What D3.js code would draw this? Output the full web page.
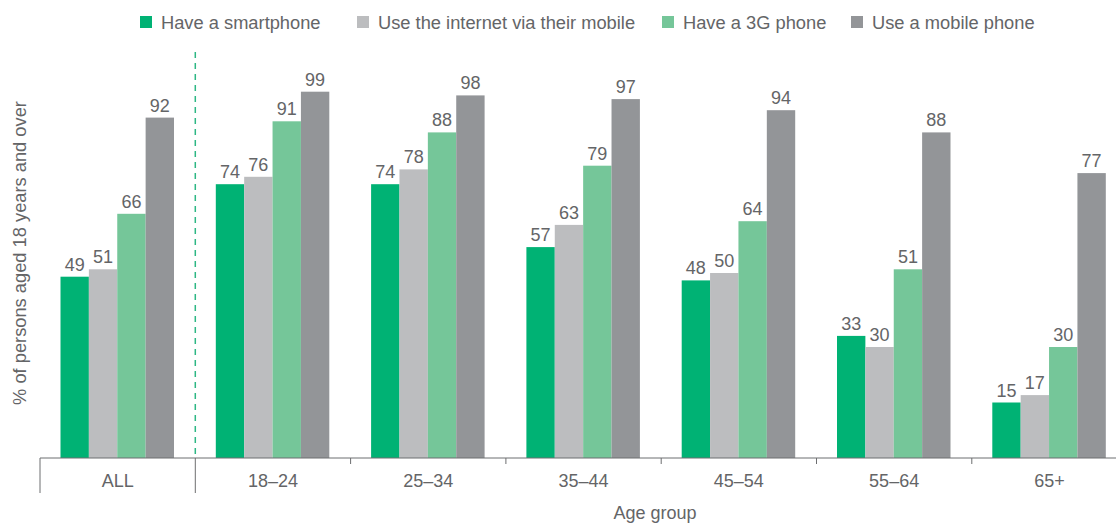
<!DOCTYPE html>
<html lang="en">
<head>
<meta charset="UTF-8">
<title>Mobile phone use by age group</title>
<script src="https://d3js.org/d3.v7.min.js"></script>
<style>
	body { margin: 0; background: #fff; }
	svg text { font-family: "Liberation Sans", Arial, sans-serif; fill: #646567; }
</style>
</head>
<body>
<svg id="chart" width="1116" height="525"></svg>
<script>
var groups = ["ALL", "18–24", "25–34", "35–44", "45–54", "55–64", "65+"];
var series = ["Have a smartphone", "Use the internet via their mobile", "Have a 3G phone", "Use a mobile phone"];
var colors = ["#00b274", "#bcbdbf", "#75c699", "#939598"];

var smartphone = [49, 74, 74, 57, 48, 33, 15];
var internet   = [51, 76, 78, 63, 50, 30, 17];
var phone3g    = [66, 91, 88, 79, 64, 51, 30];
var mobile     = [92, 99, 98, 97, 94, 88, 77];
var values = [smartphone, internet, phone3g, mobile];

var svg = d3.select("#chart");

var x0 = d3.scaleBand().domain(groups).range([40, 40 + 7 * 155.3]);
var x1 = d3.scaleBand().domain(series).range([20.5, 134]);
var y = d3.scaleLinear().domain([0, 100]).range([458, 88]);
var color = d3.scaleOrdinal().domain(series).range(colors);

// legend
var legendX = [140, 357, 662, 851];
var legend = svg.append("g").selectAll("g")
	.data(series)
	.enter().append("g")
	.attr("transform", function(d, i){ return "translate(" + legendX[i] + ",16)"; });
legend.append("rect")
	.attr("width", 12).attr("height", 12)
	.attr("fill", function(d){ return color(d); });
legend.append("text")
	.attr("x", 21).attr("y", 12.5)
	.style("font-size", "18.3px")
	.text(function(d){ return d; });

// bars
var rows = [];
groups.forEach(function(g, gi){
	series.forEach(function(s, si){
		rows.push({group: g, series: s, value: values[si][gi]});
	});
});

var bars = svg.append("g");
bars.selectAll("rect")
	.data(rows)
	.enter().append("rect")
	.attr("x", function(d){ return x0(d.group) + x1(d.series); })
	.attr("y", function(d){ return y(d.value); })
	.attr("width", x1.bandwidth())
	.attr("height", function(d){ return y(0) - y(d.value); })
	.attr("fill", function(d){ return color(d.series); });

bars.selectAll("text")
	.data(rows)
	.enter().append("text")
	.attr("x", function(d){ return x0(d.group) + x1(d.series) + x1.bandwidth() / 2; })
	.attr("y", function(d){ return y(d.value) - 6; })
	.attr("text-anchor", "middle")
	.style("font-size", "18px")
	.text(function(d){ return d.value; });

// dashed separator between ALL and the age groups
svg.append("line")
	.attr("x1", x0("18–24")).attr("x2", x0("18–24"))
	.attr("y1", 52).attr("y2", y(0))
	.attr("stroke", "#2db784")
	.attr("stroke-width", 1.5)
	.attr("stroke-dasharray", "6,5");

// x axis
var axis = svg.append("g").attr("transform", "translate(0," + y(0) + ")");
axis.append("line")
	.attr("x1", 40).attr("x2", 1116)
	.attr("stroke", "#6d6e70").attr("stroke-width", 1);
axis.selectAll(".tick")
	.data(groups)
	.enter().append("line")
	.attr("x1", function(d){ return x0(d); })
	.attr("x2", function(d){ return x0(d); })
	.attr("y1", 0)
	.attr("y2", function(d, i){ return i < 2 ? 35 : 6; })
	.attr("stroke", "#6d6e70");
axis.selectAll(".lbl")
	.data(groups)
	.enter().append("text")
	.attr("x", function(d){ return x0(d) + x0.bandwidth() / 2; })
	.attr("y", 29)
	.attr("text-anchor", "middle")
	.style("font-size", "18px")
	.text(function(d){ return d; });

svg.append("text")
	.attr("x", 655).attr("y", 519)
	.attr("text-anchor", "middle")
	.style("font-size", "18px")
	.text("Age group");

svg.append("text")
	.attr("transform", "translate(26,253) rotate(-90)")
	.attr("text-anchor", "middle")
	.style("font-size", "18.3px")
	.text("% of persons aged 18 years and over");
</script>
</body>
</html>
